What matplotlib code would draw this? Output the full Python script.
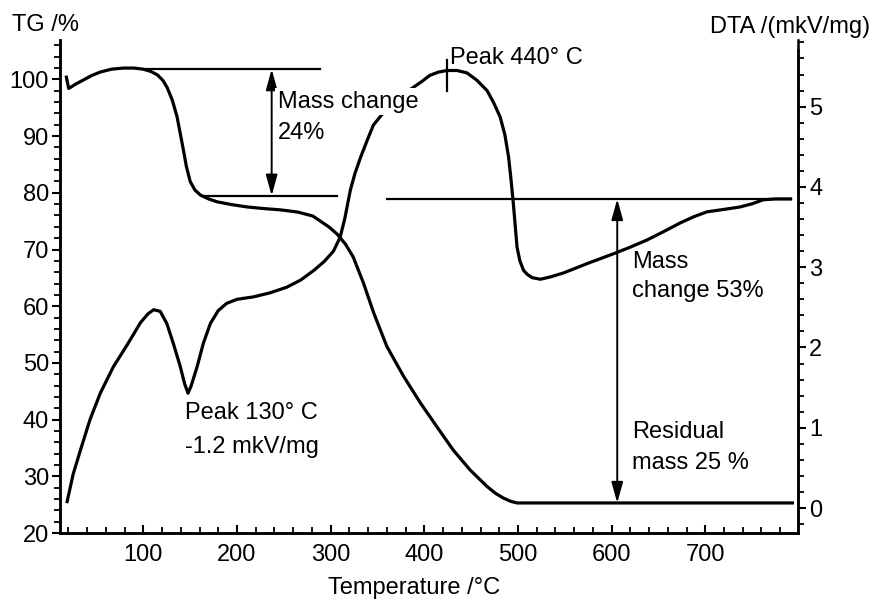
import numpy as np
import matplotlib
matplotlib.use('Agg')
import matplotlib.pyplot as plt
from matplotlib.ticker import MultipleLocator

plt.rcParams['font.family'] = ['Liberation Sans', 'DejaVu Sans']
plt.rcParams['font.size'] = 17

# TG curve (temperature degC, mass %)
tg_temp = [17.8, 20.3, 28, 36, 45, 54, 66, 78.7, 90, 100, 108, 115, 121, 125.6, 131, 136,
           142.7, 146, 150, 155, 161, 170, 179, 195, 211, 230, 246, 265, 281, 289, 298,
           307, 316, 324, 335, 346, 360, 378, 396, 413.6, 431, 449, 467, 476, 484, 492,
           499, 524, 793]
tg_mass = [100.4, 98.4, 99.2, 99.9, 100.7, 101.3, 101.8, 102.0, 102.0, 101.8, 101.4,
           100.8, 99.8, 98.5, 96.3, 93.4, 87.6, 84.6, 82.0, 80.5, 79.6, 78.9, 78.4, 77.9,
           77.5, 77.2, 77.0, 76.6, 75.9, 75.0, 74.0, 72.7, 70.9, 68.7, 64.1, 58.8, 52.9,
           47.6, 42.9, 38.7, 34.6, 31.1, 28.2, 27.0, 26.2, 25.6, 25.3, 25.3, 25.3]

# DTA curve (temperature degC, mkV/mg)
dta_temp = [18.6, 25, 32.8, 43, 54, 68, 82.6, 97, 105, 111, 118, 125, 132, 139.5, 144,
            147.7, 151, 157.4, 164, 171.6, 180, 189, 200, 217.5, 235, 253, 268, 282,
            293, 303, 310, 315, 321, 326, 332, 339, 345.6, 365, 387, 397, 406, 415, 424,
            435, 445.6, 456, 467, 474, 481, 486, 490, 492.5, 495, 499, 502, 506, 510,
            515, 524, 535, 549, 575, 602.6, 620, 638, 655, 673, 688, 702, 720, 737, 750,
            762, 775, 791]
dta_val = [0.08, 0.42, 0.72, 1.10, 1.43, 1.76, 2.03, 2.31, 2.42, 2.47, 2.45, 2.30, 2.05,
           1.76, 1.55, 1.43, 1.52, 1.76, 2.05, 2.30, 2.46, 2.55, 2.60, 2.63, 2.68, 2.75,
           2.84, 2.96, 3.07, 3.20, 3.37, 3.60, 3.96, 4.17, 4.37, 4.58, 4.77, 5.05, 5.23,
           5.31, 5.39, 5.43, 5.45, 5.45, 5.42, 5.33, 5.20, 5.05, 4.87, 4.65, 4.37, 4.10,
           3.80, 3.25, 3.08, 2.96, 2.91, 2.87, 2.85, 2.88, 2.93, 3.05, 3.17, 3.25, 3.34,
           3.44, 3.55, 3.63, 3.69, 3.72, 3.75, 3.79, 3.84, 3.85, 3.85]

# reference levels for the mass change annotations
step1_top = 101.8
step1_bottom = 79.5
step2_top = 78.9
residual = 25.3

fig = plt.figure(figsize=(8.74, 6.05), dpi=100)
ax = fig.add_axes([60 / 874, 72 / 605, 738 / 874, 493 / 605])
ax2 = ax.twinx()

ax.plot(tg_temp, tg_mass, color='black', lw=2.3, solid_joinstyle='round')
ax2.plot(dta_temp, dta_val, color='black', lw=2.3, solid_joinstyle='round')

ax.set_xlim(11, 799)
ax.set_ylim(20, 106.95)
ax2.set_ylim(-0.311, 5.83)

# horizontal guide lines
ax.plot([102, 289], [step1_top, step1_top], color='black', lw=1.6)
ax.plot([163, 307], [step1_bottom, step1_bottom], color='black', lw=1.6)
ax.plot([360, 791], [step2_top, step2_top], color='black', lw=1.6)

arrow = dict(arrowstyle='<|-|>,head_width=0.25,head_length=0.9', color='black',
             lw=1.4, shrinkA=0, shrinkB=0, mutation_scale=14)
ax.annotate('', xy=(237, step1_top), xytext=(237, step1_bottom), arrowprops=arrow)
ax.annotate('', xy=(606, step2_top), xytext=(606, residual), arrowprops=arrow)

# peak marker on DTA
ax2.plot([424, 424], [5.2, 5.58], color='black', lw=1.6)

# texts
ax2.text(244, 96.1, 'Mass change', transform=ax.transData, va='center', ha='left',
         bbox=dict(facecolor='white', edgecolor='none', pad=2))
ax2.text(244, 90.5, '24%', transform=ax.transData, va='center', ha='left')
ax2.text(427.8, 103.8, 'Peak 440° C', transform=ax.transData, va='center', ha='left')
ax2.text(144.9, 41.2, 'Peak 130° C', transform=ax.transData, va='center', ha='left')
ax2.text(144.9, 35.2, '-1.2 mkV/mg', transform=ax.transData, va='center', ha='left')
ax2.text(622, 67.8, 'Mass', transform=ax.transData, va='center', ha='left')
ax2.text(622, 62.6, 'change 53%', transform=ax.transData, va='center', ha='left')
ax2.text(622, 37.8, 'Residual', transform=ax.transData, va='center', ha='left')
ax2.text(622, 32.3, 'mass 25 %', transform=ax.transData, va='center', ha='left')

# axes styling
for a in (ax, ax2):
    a.spines['top'].set_visible(False)
    for s in a.spines.values():
        s.set_linewidth(1.8)
ax2.spines['right'].set_bounds(-0.311, 5.7)

ax.set_xticks([100, 200, 300, 400, 500, 600, 700])
ax.xaxis.set_minor_locator(MultipleLocator(20))
ax.set_yticks([20, 30, 40, 50, 60, 70, 80, 90, 100])
ax.yaxis.set_minor_locator(MultipleLocator(2))
ax2.set_yticks([0, 1, 2, 3, 4, 5])
ax2.yaxis.set_minor_locator(MultipleLocator(0.2))

ax.tick_params(axis='x', which='major', direction='in', length=6, width=1.5, pad=8)
ax.tick_params(axis='x', which='minor', direction='in', length=4, width=1.3)
ax.tick_params(axis='y', which='major', direction='out', length=6, width=1.5, pad=2)
ax.tick_params(axis='y', which='minor', direction='out', length=4, width=1.3)
ax2.tick_params(axis='y', which='major', direction='out', length=6, width=1.5, pad=2)
ax2.tick_params(axis='y', which='minor', direction='out', length=4, width=1.3)

fig.text(12 / 874, 1 - 25 / 605, 'TG /%', ha='left', va='center')
fig.text(870 / 874, 1 - 27 / 605, 'DTA /(mkV/mg)', ha='right', va='center')
fig.text(414 / 874, 1 - 588 / 605, 'Temperature /°C', ha='center', va='center')

fig.savefig('out.png', dpi=100)
